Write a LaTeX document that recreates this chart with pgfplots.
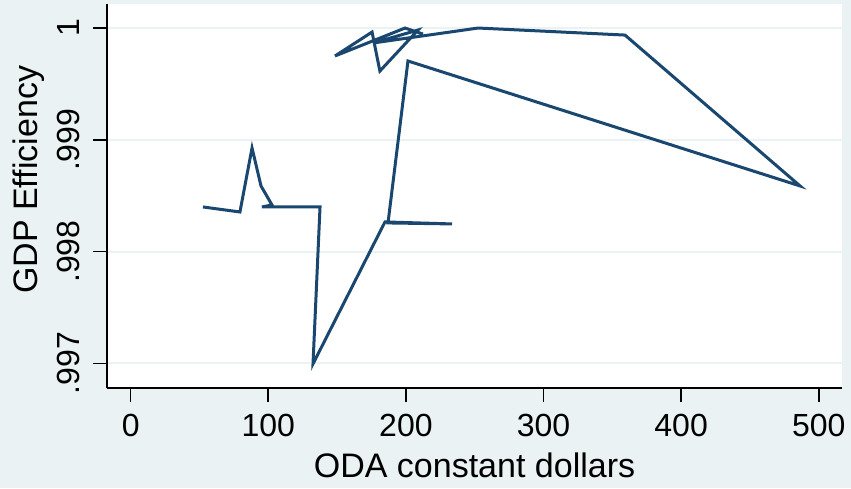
\documentclass[border=0pt]{standalone}
\usepackage{fontspec}
\setmainfont{Liberation Sans}
\usepackage{pgfplots}
\usepackage{pgfplotstable}
\pgfplotsset{compat=1.18}
\usetikzlibrary{backgrounds}

\definecolor{statabg}{RGB}{234,242,243}
\definecolor{statanavy}{RGB}{26,71,111}

% ODA (constant dollars) vs GDP efficiency, in data order
\pgfplotstableread{
oda    eff
52.5   0.998399
79.4   0.998354
88.2   0.998927
94.7   0.998587
102.7  0.998417
95.4   0.998399
137.6  0.998399
132.5  0.996995
184.8  0.998265
233.5  0.998247
187.0  0.998256
201.5  0.999705
486.4  0.998587
359.2  0.999937
252.4  1.000000
176.1  0.999866
208.8  0.999982
181.1  0.999615
175.4  0.999964
148.5  0.999750
199.4  1.000000
212.4  0.999946
}\odadata

\begin{document}
\begin{tikzpicture}
\begin{axis}[
    name=ax,
    scale only axis,
    width=367.5pt, height=192pt,
    xmin=-17.2, xmax=516.9,
    ymin=0.996779, ymax=1.000215,
    axis background/.style={fill=white},
    axis lines*=left,
    axis line style={black, line width=0.8pt, -},
    tick align=outside,
    major tick length=7pt,
    tick style={black, line width=0.8pt},
    xtick={0,100,200,300,400,500},
    ytick={0.997,0.998,0.999,1},
    yticklabels={.997,.998,.999,1},
    ymajorgrids,
    grid style={statabg, line width=1pt},
    tick label style={font=\fontsize{16}{19}\selectfont},
    /pgf/number format/assume math mode=true,
    xticklabel style={anchor=north},
    xticklabel shift=2.7pt,
    yticklabel style={rotate=90, anchor=base},
    yticklabel shift=6.5pt,
    xlabel={ODA constant dollars},
    ylabel={GDP Efficiency},
    label style={font=\fontsize{17}{20}\selectfont},
    xlabel style={at={(axis description cs:0.5,-0.2318)}, anchor=base},
    ylabel style={at={(axis description cs:-0.0952,0.542)}, anchor=base},
]
\addplot[statanavy, line width=1.5pt] table[x=oda, y=eff] {\odadata};
\end{axis}
\begin{scope}[on background layer]
\fill[statabg] ([xshift=-53.5pt,yshift=-50pt]ax.south west) rectangle ([xshift=4.5pt,yshift=2pt]ax.north east);
\end{scope}
\pgfresetboundingbox
\useasboundingbox ([xshift=-53.5pt,yshift=-50pt]ax.south west) rectangle ([xshift=4.5pt,yshift=2pt]ax.north east);
\end{tikzpicture}
\end{document}
